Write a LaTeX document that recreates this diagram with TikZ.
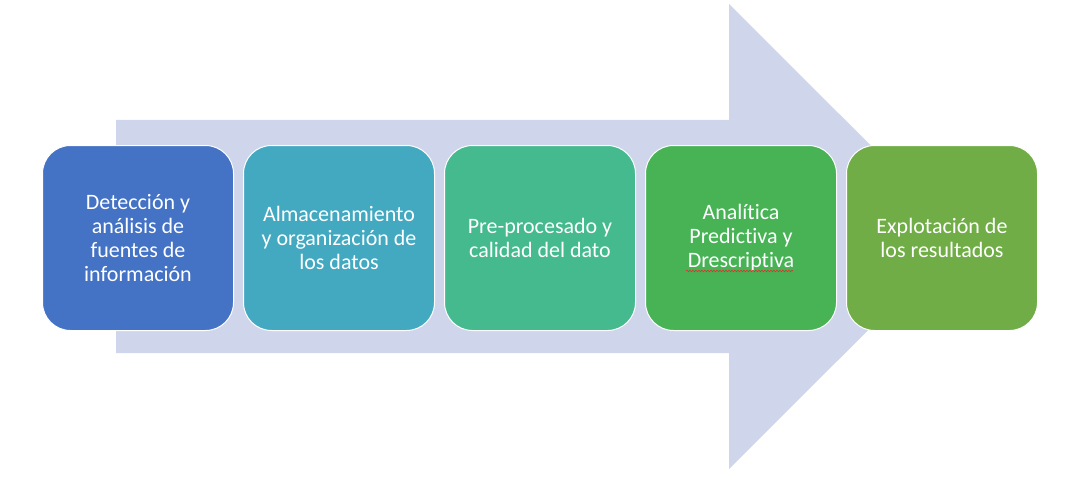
\documentclass[tikz,border=0pt]{standalone}
\usepackage{fontspec}
\setmainfont{Carlito}[RawFeature=-liga]
\usetikzlibrary{decorations.pathmorphing}
\definecolor{arrowc}{HTML}{CFD5EA}
\definecolor{cA}{HTML}{4472C4}
\definecolor{cB}{HTML}{43A9C1}
\definecolor{cC}{HTML}{44BA8E}
\definecolor{cD}{HTML}{47B355}
\definecolor{cE}{HTML}{70AD47}
\definecolor{spell}{HTML}{E03030}
\begin{document}
\begin{tikzpicture}[x=1pt,y=-1pt,
  stage/.style={draw=white, line width=1pt, rounded corners=28pt, minimum width=191pt, minimum height=185pt,
    text=white, align=center, inner sep=0pt,
    font=\fontsize{22}{24}\selectfont, anchor=north west}]
\useasboundingbox (0,0) rectangle (1075,484);
\fill[arrowc] (116,120) -- (729,120) -- (729,4) -- (962,236.5) -- (729,469) -- (729,353) -- (116,353) -- cycle;
\node[stage, fill=cA] (s1) at (42,145) {Detección y\\análisis de\\fuentes de\\información};
\node[stage, fill=cB] (s2) at (243,145) {Almacenamiento\\y organización de\\los datos};
\node[stage, fill=cC] (s3) at (444,145) {Pre-procesado y\\calidad del dato};
\node[stage, fill=cD] (s4) at (645,145) {Analítica\\Predictiva y\\Drescriptiva};
\node[stage, fill=cE] (s5) at (846,145) {Explotación de\\los resultados};
\coordinate (w1) at (686,271);
\coordinate (w2) at (793,271);
\draw[spell, line width=0.6pt, decorate, decoration={snake, amplitude=0.8pt, segment length=3pt}] (w1) -- (w2);
\end{tikzpicture}
\end{document}
